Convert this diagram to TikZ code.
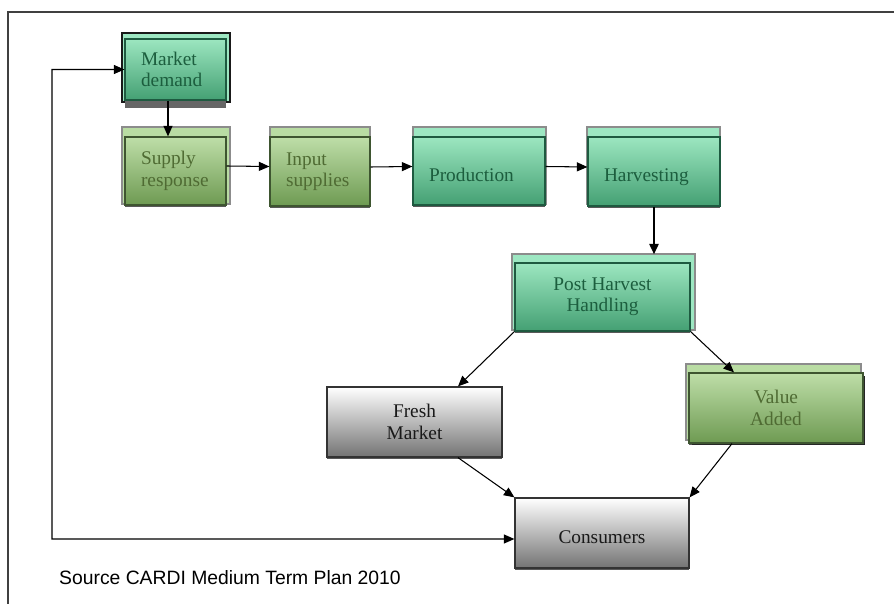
\documentclass[tikz,border=0pt]{standalone}
\usepackage{fontspec}
\setmainfont{Liberation Serif}
\setsansfont{Liberation Sans}
\usetikzlibrary{arrows.meta,positioning,backgrounds,shadows}

\definecolor{tealback}{HTML}{9DE7C2}
\definecolor{tealtop}{HTML}{9CE6C0}
\definecolor{tealbot}{HTML}{44A073}
\definecolor{tealline}{HTML}{1E5A40}
\definecolor{tealtext}{HTML}{1C5E3E}
\definecolor{oliveback}{HTML}{B9DCA3}
\definecolor{olivetop}{HTML}{BEDEA8}
\definecolor{olivebot}{HTML}{6E9A52}
\definecolor{oliveline}{HTML}{3E5530}
\definecolor{olivetext}{HTML}{4F6B33}

\tikzset{
  box/.style={rectangle, line width=0.7pt, align=center,
    font=\fontsize{11}{12.2}\selectfont,
    drop shadow={shadow xshift=0pt, shadow yshift=-0.04cm, fill=black!65, opacity=1}},
  tealbox/.style={box, draw=tealline, top color=tealtop, bottom color=tealbot, text=tealtext},
  olivebox/.style={box, draw=oliveline, top color=olivetop, bottom color=olivebot, text=olivetext},
  greybox/.style={box, draw=black!80, top color=white, bottom color=black!55, text=black!90,
    drop shadow={shadow xshift=0pt, shadow yshift=0pt, opacity=0}},
  leftpad/.style={align=left, inner xsep=0.32cm},
  oneline/.style={text height=0.42cm, text depth=0pt},
  tealrim/.style={fill=tealback, draw=black!45, line width=0.6pt},
  oliverim/.style={fill=oliveback, draw=black!45, line width=0.6pt},
  tip/.style={-{Triangle[length=0.21cm,width=0.18cm]}},
  flow/.style={tip, line width=0.6pt, black},
}

\begin{document}
\begin{tikzpicture}[x=0.02cm,y=-0.02cm]
\useasboundingbox (0,0) rectangle (894,604);
\draw[black!75, line width=0.9pt] (8,604) -- (8,12) -- (894,12);

% top row
\node[tealbox, leftpad, text width=1.38cm, minimum height=1.22cm,
  drop shadow={shadow xshift=0pt, shadow yshift=-0.16cm, fill=black!60, opacity=1}]
  (demand) at (175.5,69.5) {Market\\demand};
\node[olivebox, leftpad, text width=1.38cm, minimum height=1.36cm] (supply) at (175.5,171) {Supply\\response};
\node[olivebox, leftpad, text width=1.36cm, minimum height=1.38cm] (input) at (320,171.5) {Input\\supplies};
\node[tealbox, leftpad, oneline, text width=2.0cm, minimum height=1.36cm] (prod) at (479,171) {Production};
\node[tealbox, leftpad, oneline, text width=2.0cm, minimum height=1.38cm] (harv) at (654,171.5) {Harvesting};

% lower part
\node[tealbox, minimum width=3.5cm, minimum height=1.36cm] (post) at (602.5,297) {Post Harvest\\Handling};
\node[greybox, minimum width=3.5cm, minimum height=1.4cm] (fresh) at (414.5,422) {Fresh\\Market};
\node[olivebox, minimum width=3.48cm, minimum height=1.4cm,
  drop shadow={shadow xshift=0.05cm, shadow yshift=-0.05cm, fill=black!85, opacity=1}]
  (value) at (776,408) {Value\\Added};
\node[greybox, oneline, minimum width=3.48cm, minimum height=1.4cm] (cons) at (602,533) {Consumers};

\node[anchor=base west, font=\sffamily\fontsize{11}{13}\selectfont] (source) at (53,585)
  {Source CARDI Medium Term Plan 2010};

% rims behind the boxes
\begin{pgfonlayer}{background}
\draw[tealrim, draw=black!90, line width=0.8pt] (122,33) rectangle (230,102);
\draw[oliverim] (122,127) rectangle (230,204);
\draw[oliverim] (270,127) rectangle (370,204);
\draw[tealrim] (413,127) rectangle (546,204);
\draw[tealrim] (587,127) rectangle (720,204);
\draw[tealrim] (512,254) rectangle (695,330);
\draw[oliverim] (686,364) rectangle (861,440);
\end{pgfonlayer}

\coordinate (turn) at (52,539);

\draw[flow] ([xshift=-0.15cm]demand.south) -- ([xshift=-0.15cm]supply.north);
\draw[flow] ([yshift=0.1cm]supply.east) -- ([yshift=0.1cm]input.west);
\draw[flow] ([yshift=0.09cm]input.east) -- ([yshift=0.09cm]prod.west);
\draw[flow] ([yshift=0.09cm]prod.east) -- ([yshift=0.09cm]harv.west);
\draw[flow, line width=1.4pt] (harv.south) -- ([yshift=0.16cm]harv.south |- post.north);
\draw[flow] (post.south west) -- ([xshift=0.87cm]fresh.north);
\draw[flow] (post.south east) -- ([xshift=-0.84cm]value.north);
\draw[flow] ([xshift=0.87cm]fresh.south) -- (cons.north west);
\draw[flow] ([xshift=-0.88cm]value.south) -- (cons.north east);
\draw[flow, {Triangle[length=0.21cm,width=0.18cm]}-{Triangle[length=0.21cm,width=0.18cm]}]
  ([yshift=-0.12cm]cons.west) -- (turn) |- (demand.west);
\end{tikzpicture}
\end{document}
